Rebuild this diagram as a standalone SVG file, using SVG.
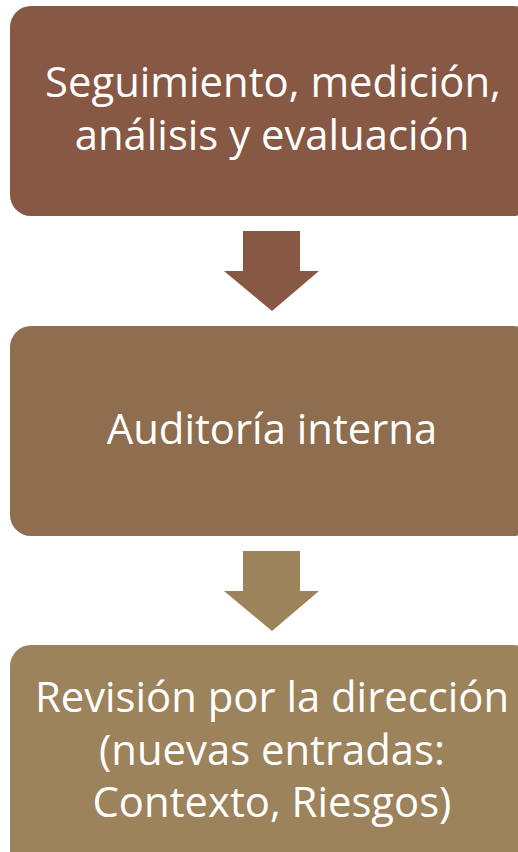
<svg xmlns="http://www.w3.org/2000/svg" width="518" height="852" viewBox="0 0 518 852">
<style>
.t{font-family:"Open Sans","Noto Sans",sans-serif;font-size:41.8px;fill:#ffffff;text-anchor:middle}
</style>
<rect width="518" height="852" fill="#ffffff"/>
<g id="node1"><rect x="10" y="6" width="524" height="210" rx="21" fill="#875843"/>
<text class="t" x="273" y="97">Seguimiento, medición,</text>
<text class="t" x="272" y="150">análisis y evaluación</text></g>
<g id="node2"><rect x="10" y="326" width="524" height="210" rx="21" fill="#8f6e4f"/>
<text class="t" x="272" y="444">Auditoría interna</text></g>
<g id="node3"><rect x="10" y="645" width="524" height="230" rx="21" fill="#9c835b"/>
<text class="t" x="272" y="712">Revisión por la dirección</text>
<text class="t" x="272" y="765">(nuevas entradas:</text>
<text class="t" x="272" y="817">Contexto, Riesgos)</text></g>
<g id="connectors">
<polygon points="243,231 300,231 300,271 319,271 272,311 224,271 243,271" fill="#875843"/>
<polygon points="243,551 300,551 300,591 319,591 272,631 224,591 243,591" fill="#9c835b"/>
</g>
</svg>
